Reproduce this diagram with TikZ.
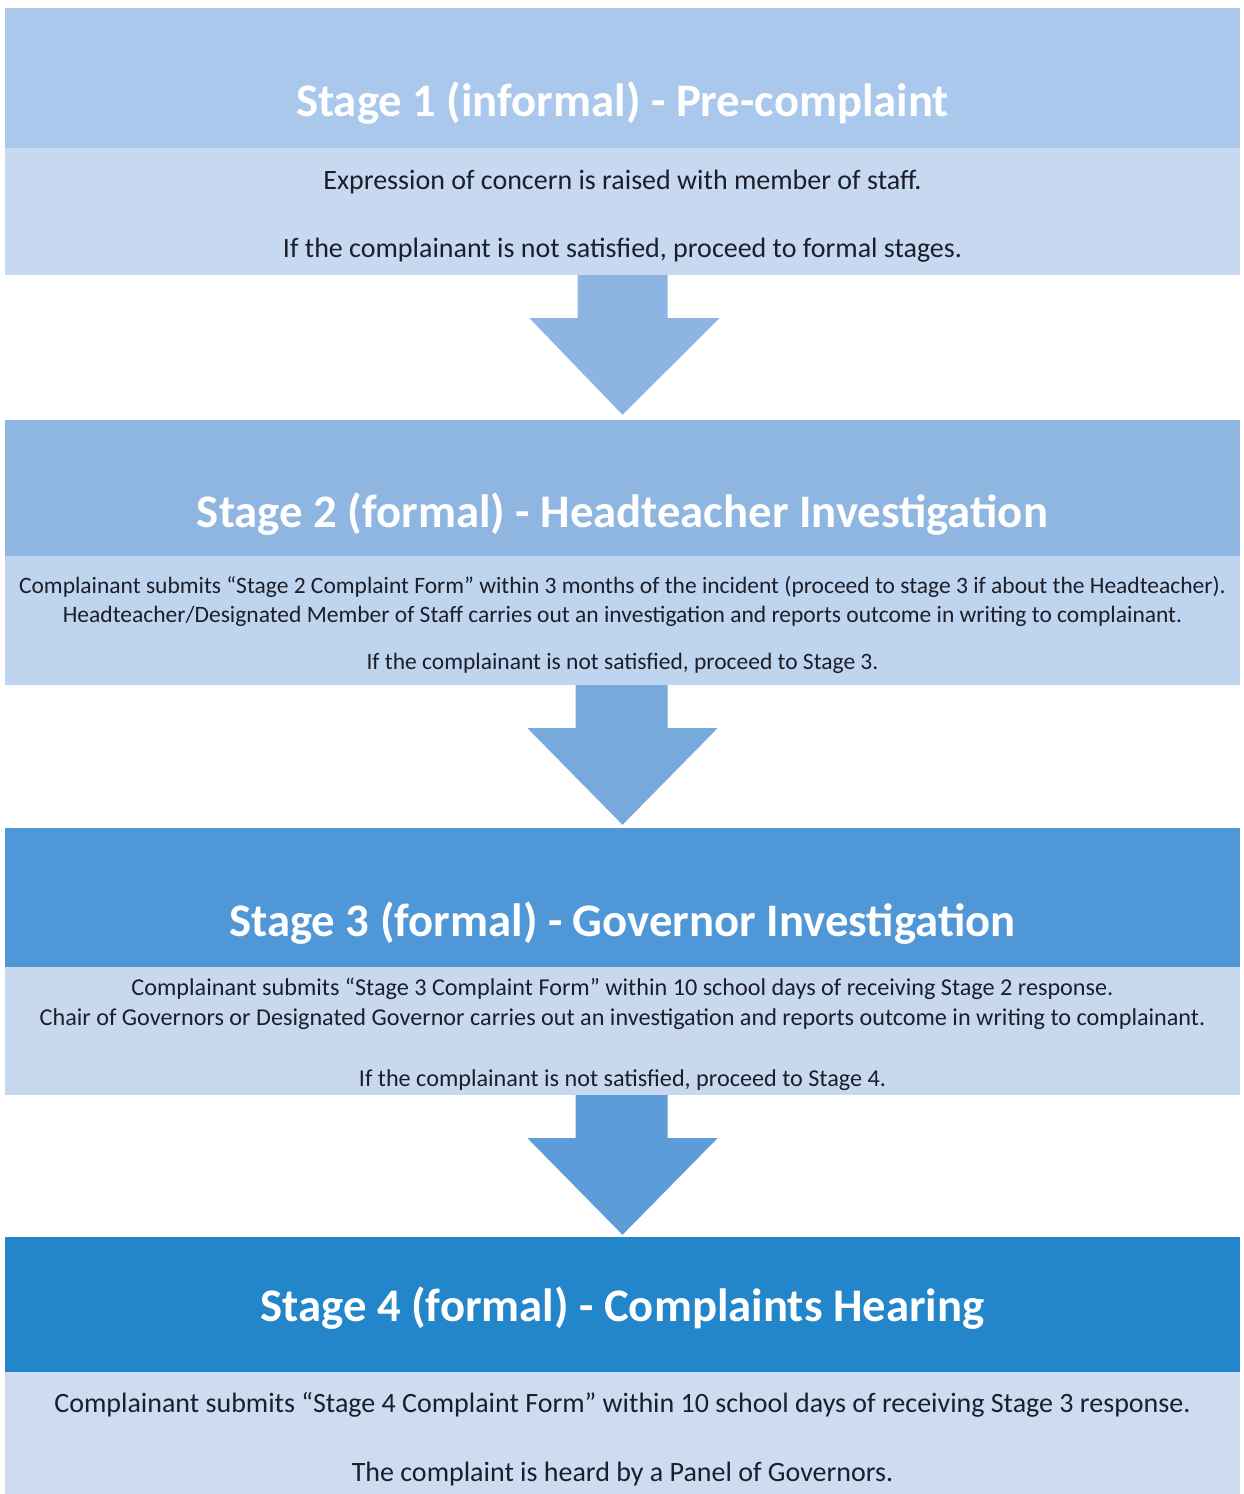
\documentclass[tikz,border=0pt]{standalone}
\usepackage{fontspec}
\setmainfont{Carlito}
\usetikzlibrary{calc}

\definecolor{hdrA}{HTML}{A9C8EC}
\definecolor{hdrB}{HTML}{8FB6E1}
\definecolor{hdrC}{HTML}{4F97D7}
\definecolor{hdrD}{HTML}{2386CB}
\definecolor{bodyA}{HTML}{C6D9F1}
\definecolor{bodyB}{HTML}{BFD4EE}
\definecolor{bodyC}{HTML}{C8D9EF}
\definecolor{bodyD}{HTML}{CDDCF0}
\definecolor{arrA}{HTML}{8DB5E3}
\definecolor{arrB}{HTML}{78A9DD}
\definecolor{arrC}{HTML}{5C9CD9}
\definecolor{ink}{HTML}{1C1E2A}

\begin{document}
\begin{tikzpicture}[x=1pt,y=1pt,
    box/.style={rectangle,minimum width=1235pt,inner sep=0pt},
    title/.style={text=white,font=\bfseries\fontsize{46.7}{54}\selectfont,inner sep=0pt},
    txt/.style={align=center,text=ink,inner sep=0pt},
    big/.style={font=\fontsize{28}{34}\selectfont},
    small/.style={font=\fontsize{23.5}{29}\selectfont},
    smaller/.style={font=\fontsize{24.2}{30}\selectfont}
]
\useasboundingbox (0,0) rectangle (1244,-1494);

% stage boxes
\node[box,fill=hdrA,minimum height=140pt] (h1) at (622.5,-78)     {};
\node[box,fill=bodyA,minimum height=127pt] (b1) at (622.5,-211.5) {};
\node[box,fill=hdrB,minimum height=136pt] (h2) at (622.5,-488)    {};
\node[box,fill=bodyB,minimum height=129pt] (b2) at (622.5,-620.5) {};
\node[box,fill=hdrC,minimum height=139pt] (h3) at (622.5,-897.5)  {};
\node[box,fill=bodyC,minimum height=128pt] (b3) at (622.5,-1031)  {};
\node[box,fill=hdrD,minimum height=135pt] (h4) at (622.5,-1304.5) {};
\node[box,fill=bodyD,minimum height=122pt] (b4) at (622.5,-1433)  {};

% titles
\node[title] (t1) at ($(h1.center)+(0,-25)$) {Stage 1 (informal) - Pre-complaint};
\node[title] (t2) at ($(h2.center)+(0,-26)$) {Stage 2 (formal) - Headteacher Investigation};
\node[title] (t3) at ($(h3.center)+(0,-26)$) {Stage 3 (formal) - Governor Investigation};
\node[title] (t4) at ($(h4.center)+(0,-4)$)  {Stage 4 (formal) - Complaints Hearing};

% body texts
\node[txt,big] (x1) at ($(b1.center)+(0,-5)$)
  {Expression of concern is raised with member of staff.\\[34pt]
   If the complainant is not satisfied, proceed to formal stages.};
\node[txt,small] (x2) at ($(b2.center)+(0,-4)$)
  {Complainant submits ``Stage 2 Complaint Form'' within 3 months of the incident (proceed to stage 3 if about the Headteacher).\\
   Headteacher/Designated Member of Staff carries out an investigation and reports outcome in writing to complainant.\\[18pt]
   If the complainant is not satisfied, proceed to Stage 3.};
\node[txt,smaller] (x3) at ($(b3.center)+(0,-3)$)
  {Complainant submits ``Stage 3 Complaint Form'' within 10 school days of receiving Stage 2 response.\\
   Chair of Governors or Designated Governor carries out an investigation and reports outcome in writing to complainant.\\[31pt]
   If the complainant is not satisfied, proceed to Stage 4.};
\node[txt,big] (x4) at ($(b4.center)+(0,-6)$)
  {Complainant submits ``Stage 4 Complaint Form'' within 10 school days of receiving Stage 3 response.\\[35pt]
   The complaint is heard by a Panel of Governors.};

% block arrows between stages
\fill[arrA] ($(b1.south)+(-45,0)$) -- ($(b1.south)+(45,0)$) -- ($(b1.south)+(45,-43)$)
  -- ($(b1.south)+(97,-43)$) -- ($(h2.north)+(0,5)$) -- ($(b1.south)+(-93,-43)$)
  -- ($(b1.south)+(-45,-43)$) -- cycle;
\fill[arrB] ($(b2.south)+(-47,0)$) -- ($(b2.south)+(45,0)$) -- ($(b2.south)+(45,-43)$)
  -- ($(b2.south)+(95,-43)$) -- ($(h3.north)+(0,3)$) -- ($(b2.south)+(-95,-43)$)
  -- ($(b2.south)+(-47,-43)$) -- cycle;
\fill[arrC] ($(b3.south)+(-47,0)$) -- ($(b3.south)+(45,0)$) -- ($(b3.south)+(45,-43)$)
  -- ($(b3.south)+(95,-43)$) -- ($(h4.north)+(0,2)$) -- ($(b3.south)+(-95,-43)$)
  -- ($(b3.south)+(-47,-43)$) -- cycle;
\end{tikzpicture}
\end{document}
